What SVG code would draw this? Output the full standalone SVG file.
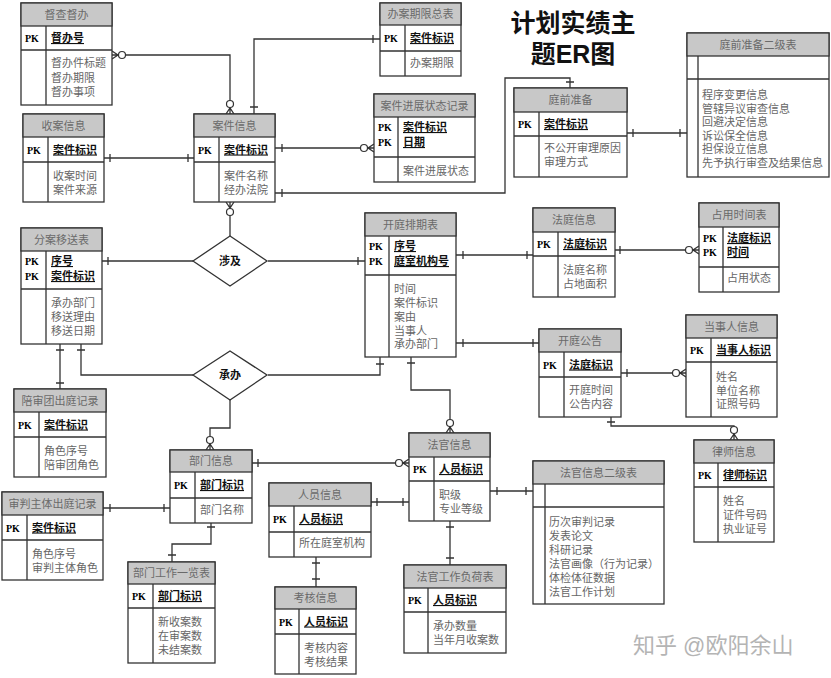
<svg xmlns="http://www.w3.org/2000/svg" width="831" height="678" viewBox="0 0 831 678">
<style>
.box{fill:#fff;stroke:#333;stroke-width:1.3}
.hd{fill:#c8c8c8;stroke:#333;stroke-width:1.3}
.ln{fill:none;stroke:#333;stroke-width:1.3}
text{font-family:"Liberation Sans","Noto Sans CJK SC","Noto Sans CJK TC",sans-serif;font-size:11px}
.ht{fill:#6a6a6a;text-anchor:middle}
.pk{font-family:"Liberation Serif",serif;font-weight:bold;font-size:10px;fill:#000}
.key{font-weight:bold;fill:#111;text-decoration:underline}
.at{fill:#666}
.cn path{fill:none;stroke:#333;stroke-width:1.3}
.cn circle{fill:#fff;stroke:#333;stroke-width:1.2}
.dm{fill:#fff;stroke:#333;stroke-width:1.3}
.dt{font-weight:bold;fill:#111;text-anchor:middle}
.tt{font-size:25px;font-weight:bold;fill:#111;text-anchor:middle}
</style>
<rect width="831" height="678" fill="#fff"/>
<g id="title">
<text class="tt" x="573" y="32">计划实绩主</text>
<text class="tt" x="573" y="63">题ER图</text>
</g>
<g class="cn" id="connectors">
<path d="M112 55H230V114M112 51L118 55L112 59M226 114L230 108L234 114"/>
<circle cx="122" cy="55" r="3.5"/><circle cx="230" cy="104" r="3.5"/>
<path d="M104 158H194M110 154V162M188 154V162"/>
<path d="M254 114V39H380M250 107H258M373 35V43"/>
<path d="M275 148H374M282 144V152M374 144L368 148L374 152"/>
<circle cx="364" cy="148" r="3.5"/>
<path d="M275 193H505V78H570V88M282 189V197M566 82H574"/>
<path d="M627 133H687M633 129V137M680 129V137"/>
<path d="M230 202V236M226 202L230 208L234 202"/>
<circle cx="230" cy="212" r="3.5"/>
<path d="M102 261H193M108 257V265"/>
<path d="M268 261H365M358 257V265"/>
<path d="M60 344V389M56 350H64M56 383H64"/>
<path d="M81 344V375H193M77 350H85"/>
<path d="M268 375H380V357M376 364H384"/>
<path d="M230 400V428H210V450M206 450L210 444L214 450"/>
<circle cx="210" cy="440" r="3.5"/>
<path d="M456 255H533M463 251V259M527 251V259"/>
<path d="M456 343H539M463 339V347M533 339V347"/>
<path d="M411 357V390H450V433M407 363H415M446 433L450 427L454 433"/>
<circle cx="450" cy="423" r="3.5"/>
<path d="M615 250H699M620 246V254M699 246L693 250L699 254"/>
<circle cx="689" cy="250" r="3.5"/>
<path d="M621 373H686M627 369V377M686 369L680 373L686 377"/>
<circle cx="676" cy="373" r="3.5"/>
<path d="M611 417V426H734V440M607 422H615M730 440L734 434L738 440"/>
<circle cx="734" cy="430" r="3.5"/>
<path d="M252 463H409M258 459V467M409 459L403 463L409 467"/>
<circle cx="399" cy="463" r="3.5"/>
<path d="M103 508H170M110 504V512M164 504V512"/>
<path d="M211 523V544H172V562M207 527H215M168 555H176"/>
<path d="M371 502H409M377 498V506M403 498V506"/>
<path d="M490 491H533M497 487V495M526 487V495"/>
<path d="M316 557V587M312 563H320M312 579H320"/>
<path d="M450 521V565M446 527H454M446 558H454"/>
</g>
<g id="rel_sheji">
<polygon class="dm" points="193,261 230,236 267,261 230,286"/>
<text class="dt" x="230" y="265">涉及</text>
</g>
<g id="rel_chengban">
<polygon class="dm" points="193,375 230,351 267,375 230,400"/>
<text class="dt" x="230" y="379">承办</text>
</g>
<g id="dcdb">
<rect class="box" x="21" y="3" width="91" height="102"/><rect class="hd" x="21" y="3" width="91" height="23"/>
<path class="ln" d="M21 50H112M46 26V105"/>
<text class="ht" x="66.5" y="18.5">督查督办</text>
<text class="pk" x="25" y="42">PK</text><text class="key" x="51" y="42">督办号</text>
<text class="at" x="51" y="67">督办件标题</text><text class="at" x="51" y="82">督办期限</text><text class="at" x="51" y="96">督办事项</text>
</g>
<g id="saxx">
<rect class="box" x="23" y="114" width="81" height="88"/><rect class="hd" x="23" y="114" width="81" height="23"/>
<path class="ln" d="M23 162H104M48 137V202"/>
<text class="ht" x="63.5" y="129.5">收案信息</text>
<text class="pk" x="27" y="153.5">PK</text><text class="key" x="53" y="153.5">案件标识</text>
<text class="at" x="53" y="180">收案时间</text><text class="at" x="53" y="194">案件来源</text>
</g>
<g id="ajxx">
<rect class="box" x="194" y="114" width="81" height="88"/><rect class="hd" x="194" y="114" width="81" height="23"/>
<path class="ln" d="M194 162H275M219 137V202"/>
<text class="ht" x="234.5" y="129.5">案件信息</text>
<text class="pk" x="198" y="153.5">PK</text><text class="key" x="224" y="153.5">案件标识</text>
<text class="at" x="224" y="180">案件名称</text><text class="at" x="224" y="194">经办法院</text>
</g>
<g id="bajxzb">
<rect class="box" x="380" y="3" width="81" height="73"/><rect class="hd" x="380" y="3" width="81" height="22"/>
<path class="ln" d="M380 51H461M405 25V76"/>
<text class="ht" x="420.5" y="18">办案期限总表</text>
<text class="pk" x="384" y="42">PK</text><text class="key" x="410" y="42">案件标识</text>
<text class="at" x="410" y="67">办案期限</text>
</g>
<g id="ajjzztjl">
<rect class="box" x="374" y="94" width="101" height="88"/><rect class="hd" x="374" y="94" width="101" height="23"/>
<path class="ln" d="M374 157H475M398 117V182"/>
<text class="ht" x="424.5" y="109.5">案件进展状态记录</text>
<text class="pk" x="378" y="131">PK</text><text class="key" x="403" y="131">案件标识</text>
<text class="pk" x="378" y="146">PK</text><text class="key" x="403" y="146">日期</text>
<text class="at" x="403" y="175">案件进展状态</text>
</g>
<g id="tqzb">
<rect class="box" x="514" y="88" width="113" height="89"/><rect class="hd" x="514" y="88" width="113" height="24"/>
<path class="ln" d="M514 136H627M539 112V177"/>
<text class="ht" x="570.5" y="104">庭前准备</text>
<text class="pk" x="518" y="128">PK</text><text class="key" x="544" y="128">案件标识</text>
<text class="at" x="544" y="152">不公开审理原因</text><text class="at" x="544" y="166">审理方式</text>
</g>
<g id="tqzb2">
<rect class="box" x="687" y="33" width="142" height="144"/><rect class="hd" x="687" y="33" width="142" height="23"/>
<path class="ln" d="M687 79H829M698 56V177"/>
<text class="ht" x="758" y="48.5">庭前准备二级表</text>
<text class="at" x="702" y="99">程序变更信息</text><text class="at" x="702" y="112.6">管辖异议审查信息</text><text class="at" x="702" y="126.2">回避决定信息</text><text class="at" x="702" y="139.8">诉讼保全信息</text><text class="at" x="702" y="153.4">担保设立信息</text><text class="at" x="702" y="167">先予执行审查及结果信息</text>
</g>
<g id="fayszb">
<rect class="box" x="21" y="228" width="81" height="116"/><rect class="hd" x="21" y="228" width="81" height="23"/>
<path class="ln" d="M21 289H102M46 251V344"/>
<text class="ht" x="61.5" y="243.5">分案移送表</text>
<text class="pk" x="25" y="265">PK</text><text class="key" x="51" y="265">序号</text>
<text class="pk" x="25" y="280">PK</text><text class="key" x="51" y="280">案件标识</text>
<text class="at" x="51" y="307">承办部门</text><text class="at" x="51" y="321">移送理由</text><text class="at" x="51" y="335">移送日期</text>
</g>
<g id="ktpqb">
<rect class="box" x="365" y="213" width="91" height="144"/><rect class="hd" x="365" y="213" width="91" height="23"/>
<path class="ln" d="M365 275H456M389 236V357"/>
<text class="ht" x="410.5" y="228.5">开庭排期表</text>
<text class="pk" x="369" y="250">PK</text><text class="key" x="394" y="250">序号</text>
<text class="pk" x="369" y="265">PK</text><text class="key" x="394" y="265">庭室机构号</text>
<text class="at" x="394" y="293">时间</text><text class="at" x="394" y="307">案件标识</text><text class="at" x="394" y="321">案由</text><text class="at" x="394" y="335">当事人</text><text class="at" x="394" y="348">承办部门</text>
</g>
<g id="ftxx">
<rect class="box" x="533" y="208" width="82" height="89"/><rect class="hd" x="533" y="208" width="82" height="24"/>
<path class="ln" d="M533 256H615M558 232V297"/>
<text class="ht" x="574" y="224">法庭信息</text>
<text class="pk" x="537" y="248">PK</text><text class="key" x="563" y="248">法庭标识</text>
<text class="at" x="563" y="274">法庭名称</text><text class="at" x="563" y="288">占地面积</text>
</g>
<g id="zysjb">
<rect class="box" x="699" y="203" width="80" height="89"/><rect class="hd" x="699" y="203" width="80" height="24"/>
<path class="ln" d="M699 267H779M723 227V292"/>
<text class="ht" x="739" y="219">占用时间表</text>
<text class="pk" x="703" y="242">PK</text><text class="key" x="727" y="242">法庭标识</text>
<text class="pk" x="703" y="256">PK</text><text class="key" x="727" y="256">时间</text>
<text class="at" x="727" y="282">占用状态</text>
</g>
<g id="ktgg">
<rect class="box" x="539" y="329" width="82" height="88"/><rect class="hd" x="539" y="329" width="82" height="23"/>
<path class="ln" d="M539 377H621M564 352V417"/>
<text class="ht" x="580" y="344.5">开庭公告</text>
<text class="pk" x="543" y="368.5">PK</text><text class="key" x="569" y="368.5">法庭标识</text>
<text class="at" x="569" y="394">开庭时间</text><text class="at" x="569" y="408">公告内容</text>
</g>
<g id="dsrxx">
<rect class="box" x="686" y="315" width="91" height="102"/><rect class="hd" x="686" y="315" width="91" height="23"/>
<path class="ln" d="M686 362H777M711 338V417"/>
<text class="ht" x="731.5" y="330.5">当事人信息</text>
<text class="pk" x="690" y="354">PK</text><text class="key" x="716" y="354">当事人标识</text>
<text class="at" x="716" y="381">姓名</text><text class="at" x="716" y="394.5">单位名称</text><text class="at" x="716" y="408">证照号码</text>
</g>
<g id="pstcajl">
<rect class="box" x="14" y="389" width="92" height="88"/><rect class="hd" x="14" y="389" width="92" height="23"/>
<path class="ln" d="M14 437H106M39 412V477"/>
<text class="ht" x="60" y="404.5">陪审团出庭记录</text>
<text class="pk" x="18" y="428.5">PK</text><text class="key" x="44" y="428.5">案件标识</text>
<text class="at" x="44" y="455">角色序号</text><text class="at" x="44" y="469">陪审团角色</text>
</g>
<g id="bmxx">
<rect class="box" x="170" y="450" width="82" height="73"/><rect class="hd" x="170" y="450" width="82" height="22"/>
<path class="ln" d="M170 498H252M195 472V523"/>
<text class="ht" x="211" y="465">部门信息</text>
<text class="pk" x="174" y="489">PK</text><text class="key" x="200" y="489">部门标识</text>
<text class="at" x="200" y="514">部门名称</text>
</g>
<g id="spztcajl">
<rect class="box" x="2" y="492" width="101" height="88"/><rect class="hd" x="2" y="492" width="101" height="23"/>
<path class="ln" d="M2 540H103M27 515V580"/>
<text class="ht" x="52.5" y="507.5">审判主体出庭记录</text>
<text class="pk" x="6" y="531.5">PK</text><text class="key" x="32" y="531.5">案件标识</text>
<text class="at" x="32" y="558">角色序号</text><text class="at" x="32" y="572">审判主体角色</text>
</g>
<g id="bmgzylb">
<rect class="box" x="128" y="562" width="87" height="101"/><rect class="hd" x="128" y="562" width="87" height="22"/>
<path class="ln" d="M128 608H215M153 584V663"/>
<text class="ht" x="171.5" y="577">部门工作一览表</text>
<text class="pk" x="132" y="600">PK</text><text class="key" x="158" y="600">部门标识</text>
<text class="at" x="158" y="626">新收案数</text><text class="at" x="158" y="640">在审案数</text><text class="at" x="158" y="654">未结案数</text>
</g>
<g id="ryxx">
<rect class="box" x="269" y="483" width="102" height="74"/><rect class="hd" x="269" y="483" width="102" height="23"/>
<path class="ln" d="M269 532H371M294 506V557"/>
<text class="ht" x="320" y="498.5">人员信息</text>
<text class="pk" x="273" y="523">PK</text><text class="key" x="299" y="523">人员标识</text>
<text class="at" x="299" y="547">所在庭室机构</text>
</g>
<g id="fgxx">
<rect class="box" x="409" y="433" width="81" height="88"/><rect class="hd" x="409" y="433" width="81" height="24"/>
<path class="ln" d="M409 481H490M434 457V521"/>
<text class="ht" x="449.5" y="449">法官信息</text>
<text class="pk" x="413" y="473">PK</text><text class="key" x="439" y="473">人员标识</text>
<text class="at" x="439" y="499">职级</text><text class="at" x="439" y="513">专业等级</text>
</g>
<g id="fgxx2">
<rect class="box" x="533" y="461" width="131" height="143"/><rect class="hd" x="533" y="461" width="131" height="23"/>
<path class="ln" d="M533 507H664M545 484V604"/>
<text class="ht" x="598.5" y="476.5">法官信息二级表</text>
<text class="at" x="549" y="526">历次审判记录</text><text class="at" x="549" y="540">发表论文</text><text class="at" x="549" y="554">科研记录</text><text class="at" x="549" y="568">法官画像（行为记录）</text><text class="at" x="549" y="582">体检体征数据</text><text class="at" x="549" y="596">法官工作计划</text>
</g>
<g id="khxx">
<rect class="box" x="275" y="587" width="81" height="87"/><rect class="hd" x="275" y="587" width="81" height="22"/>
<path class="ln" d="M275 634H356M299 609V674"/>
<text class="ht" x="315.5" y="602">考核信息</text>
<text class="pk" x="279" y="625.5">PK</text><text class="key" x="304" y="625.5">人员标识</text>
<text class="at" x="304" y="652">考核内容</text><text class="at" x="304" y="666">考核结果</text>
</g>
<g id="fggzfhb">
<rect class="box" x="404" y="565" width="102" height="88"/><rect class="hd" x="404" y="565" width="102" height="23"/>
<path class="ln" d="M404 612H506M428 588V653"/>
<text class="ht" x="455" y="580.5">法官工作负荷表</text>
<text class="pk" x="408" y="604">PK</text><text class="key" x="433" y="604">人员标识</text>
<text class="at" x="433" y="630">承办数量</text><text class="at" x="433" y="644">当年月收案数</text>
</g>
<g id="lsxx">
<rect class="box" x="694" y="440" width="80" height="102"/><rect class="hd" x="694" y="440" width="80" height="23"/>
<path class="ln" d="M694 487H774M718 463V542"/>
<text class="ht" x="734" y="455.5">律师信息</text>
<text class="pk" x="698" y="479">PK</text><text class="key" x="723" y="479">律师标识</text>
<text class="at" x="723" y="505">姓名</text><text class="at" x="723" y="519">证件号码</text><text class="at" x="723" y="533">执业证号</text>
</g>
<g id="watermark">
<text x="633" y="653" style="font-size:22px;fill:#b4b4b4">知乎 @欧阳余山</text>
</g>
</svg>
